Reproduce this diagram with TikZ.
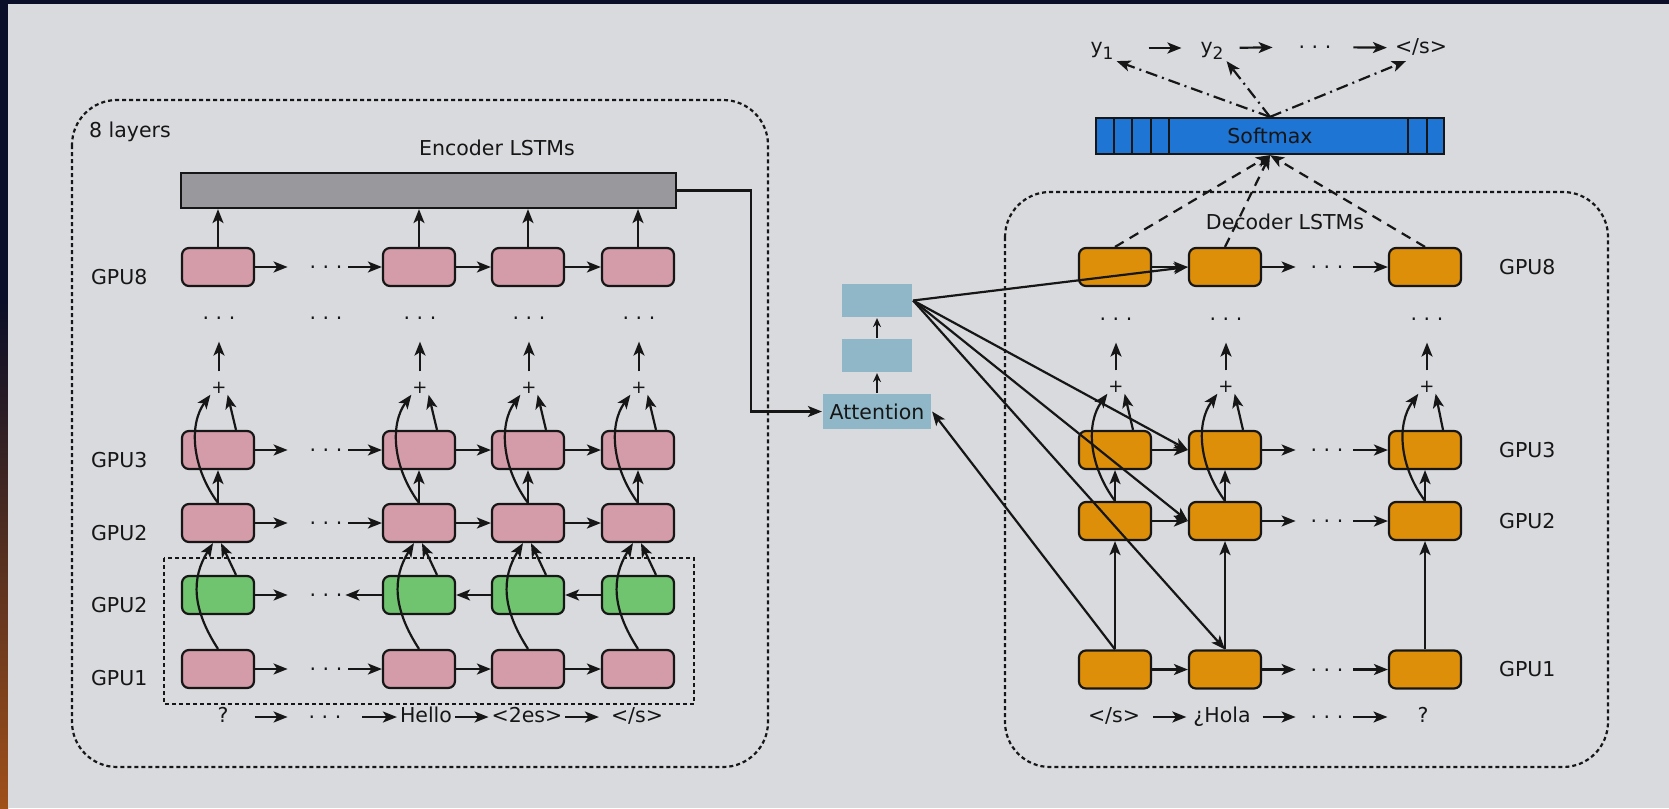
\documentclass[tikz,border=0pt]{standalone}
\usepackage{fontspec}
\setmainfont{DejaVu Sans}
\usetikzlibrary{arrows.meta}
\definecolor{enccol}{RGB}{212,155,168}
\definecolor{bwdcol}{RGB}{112,196,112}
\definecolor{deccol}{RGB}{222,143,10}
\definecolor{attcol}{RGB}{143,183,199}
\definecolor{smcol}{RGB}{30,117,212}
\definecolor{barcol}{RGB}{152,152,157}
\definecolor{panel}{RGB}{217,218,222}
\definecolor{backcol}{RGB}{10,14,40}
\definecolor{glow}{RGB}{160,80,25}
\definecolor{ink}{RGB}{22,22,22}
\tikzset{>={Stealth[length=14pt,width=11pt,inset=3.5pt]},
	cell/.style={rounded corners=7pt,draw=ink,line width=2.2pt,minimum width=72pt,minimum height=38pt,inner sep=0pt},
	enc/.style={cell,fill=enccol},
	bwd/.style={cell,fill=bwdcol},
	dec/.style={cell,fill=deccol},
	att/.style={fill=attcol,inner sep=0pt,minimum width=70pt,minimum height=33pt,font=\fontsize{20.5}{24}\selectfont},
	txt/.style={inner sep=2pt,text height=15pt,text depth=5pt,font=\fontsize{20.5}{24}\selectfont},
	gpu/.style={inner sep=0pt,anchor=west,font=\fontsize{20.5}{24}\selectfont},
	dots/.style={inner sep=0pt,text height=3pt,text depth=0pt,font=\fontsize{20.5}{24}\selectfont},
	plus/.style={inner sep=0pt,font=\fontsize{18}{18}\selectfont},
	grp/.style={dash pattern=on 4pt off 3pt,line width=2.2pt},
	up/.style={->,shorten <=10pt,shorten >=21pt},
	small/.style={-{Stealth[open,length=9pt,width=8pt,inset=3pt]},line width=1.4pt}}
\begin{document}
\begin{tikzpicture}[x=1pt,y=-1pt,line width=2.2pt,color=ink]
	\useasboundingbox (0,0) rectangle (1669,808);
	\fill [backcol] (0,0) rectangle (1669,808);
	\shade [top color=backcol,bottom color=glow] (0,300) rectangle (8,808);
	\fill [panel] (8,4) rectangle (1669,808);
	\draw [grp,rounded corners=45pt] (72,100) rectangle (768,767);
	\draw [grp,rounded corners=45pt] (1005,192) rectangle (1608,767);
	\draw [grp] (164,558) rectangle (694,704);
	\node (lyr) at (88,132) [gpu] {8 layers};
	\node (enct) at (497,150) [txt] {Encoder LSTMs};
	\node (dect) at (1285,224) [txt] {Decoder LSTMs};
	\node (bar) at (428.5,190.5) [draw=ink,fill=barcol,minimum width=495pt,minimum height=35pt,inner sep=0pt] {};
	\node (le8) at (90,277) [gpu] {GPU8};
	\node (le3) at (90,460) [gpu] {GPU3};
	\node (le2) at (90,533) [gpu] {GPU2};
	\node (leb) at (90,605) [gpu] {GPU2};
	\node (le1) at (90,678) [gpu] {GPU1};
	\node (e8a) at (218,267) [enc] {};
	\node (e8x) at (326,267) [dots] {.\ .\ .};
	\node (e8b) at (419,267) [enc] {};
	\node (e8c) at (528,267) [enc] {};
	\node (e8d) at (638,267) [enc] {};
	\node (eva) at (219,318) [dots] {.\ .\ .};
	\node (evx) at (326,318) [dots] {.\ .\ .};
	\node (evb) at (420,318) [dots] {.\ .\ .};
	\node (evc) at (529,318) [dots] {.\ .\ .};
	\node (evd) at (639,318) [dots] {.\ .\ .};
	\node (epa) at (219,388) [plus] {+};
	\node (epb) at (420,388) [plus] {+};
	\node (epc) at (529,388) [plus] {+};
	\node (epd) at (639,388) [plus] {+};
	\node (e3a) at (218,450) [enc] {};
	\node (e3x) at (326,450) [dots] {.\ .\ .};
	\node (e3b) at (419,450) [enc] {};
	\node (e3c) at (528,450) [enc] {};
	\node (e3d) at (638,450) [enc] {};
	\node (e2a) at (218,523) [enc] {};
	\node (e2x) at (326,523) [dots] {.\ .\ .};
	\node (e2b) at (419,523) [enc] {};
	\node (e2c) at (528,523) [enc] {};
	\node (e2d) at (638,523) [enc] {};
	\node (eba) at (218,595) [bwd] {};
	\node (ebx) at (326,595) [dots] {.\ .\ .};
	\node (ebb) at (419,595) [bwd] {};
	\node (ebc) at (528,595) [bwd] {};
	\node (ebd) at (638,595) [bwd] {};
	\node (e1a) at (218,669) [enc] {};
	\node (e1x) at (326,669) [dots] {.\ .\ .};
	\node (e1b) at (419,669) [enc] {};
	\node (e1c) at (528,669) [enc] {};
	\node (e1d) at (638,669) [enc] {};
	\node (iq) at (223,717) [txt] {?};
	\node (ix) at (325,717) [dots] {.\ .\ .};
	\node (ih) at (426,717) [txt] {Hello};
	\node (ies) at (527,717) [txt] {<2es>};
	\node (ieos) at (637,717) [txt] {</s>};
	\draw [->,shorten >=21pt] (e8a) -- (e8x);
	\draw [->,shorten <=5pt] (e8x) -- (e8b);
	\draw [->] (e8b) -- (e8c);
	\draw [->] (e8c) -- (e8d);
	\draw [->,shorten >=21pt] (e3a) -- (e3x);
	\draw [->,shorten <=5pt] (e3x) -- (e3b);
	\draw [->] (e3b) -- (e3c);
	\draw [->] (e3c) -- (e3d);
	\draw [->,shorten >=21pt] (e2a) -- (e2x);
	\draw [->,shorten <=5pt] (e2x) -- (e2b);
	\draw [->] (e2b) -- (e2c);
	\draw [->] (e2c) -- (e2d);
	\draw [->,shorten >=21pt] (eba) -- (ebx);
	\draw [->,shorten >=2pt] (ebb) -- (ebx);
	\draw [->] (ebc) -- (ebb);
	\draw [->] (ebd) -- (ebc);
	\draw [->,shorten >=21pt] (e1a) -- (e1x);
	\draw [->,shorten <=5pt] (e1x) -- (e1b);
	\draw [->] (e1b) -- (e1c);
	\draw [->] (e1c) -- (e1d);
	\draw [->,shorten <=23pt,shorten >=20pt] (iq) -- (ix);
	\draw [->,shorten <=20pt] (ix) -- (ih);
	\draw [->] (ih) -- (ies);
	\draw [->,shorten >=9pt] (ies) -- (ieos);
	\draw [->] (e1a.north) .. controls +(-26,-40) and +(-22,35) .. ([xshift=-5pt]e2a.south);
	\draw [->] ([xshift=18pt]eba.north) -- ([xshift=3pt]e2a.south);
	\draw [->] (e2a) -- (e3a);
	\draw [->] (e2a.north) .. controls +(-26,-35) and +(-22,30) .. (epa.south west);
	\draw [->] ([xshift=18pt]e3a.north) -- (epa.south east);
	\draw [up] (epa) -- (eva);
	\draw [->] (e8a) -- (e8a |- bar.south);
	\draw [->] (e1b.north) .. controls +(-26,-40) and +(-22,35) .. ([xshift=-5pt]e2b.south);
	\draw [->] ([xshift=18pt]ebb.north) -- ([xshift=3pt]e2b.south);
	\draw [->] (e2b) -- (e3b);
	\draw [->] (e2b.north) .. controls +(-26,-35) and +(-22,30) .. (epb.south west);
	\draw [->] ([xshift=18pt]e3b.north) -- (epb.south east);
	\draw [up] (epb) -- (evb);
	\draw [->] (e8b) -- (e8b |- bar.south);
	\draw [->] (e1c.north) .. controls +(-26,-40) and +(-22,35) .. ([xshift=-5pt]e2c.south);
	\draw [->] ([xshift=18pt]ebc.north) -- ([xshift=3pt]e2c.south);
	\draw [->] (e2c) -- (e3c);
	\draw [->] (e2c.north) .. controls +(-26,-35) and +(-22,30) .. (epc.south west);
	\draw [->] ([xshift=18pt]e3c.north) -- (epc.south east);
	\draw [up] (epc) -- (evc);
	\draw [->] (e8c) -- (e8c |- bar.south);
	\draw [->] (e1d.north) .. controls +(-26,-40) and +(-22,35) .. ([xshift=-5pt]e2d.south);
	\draw [->] ([xshift=18pt]ebd.north) -- ([xshift=3pt]e2d.south);
	\draw [->] (e2d) -- (e3d);
	\draw [->] (e2d.north) .. controls +(-26,-35) and +(-22,30) .. (epd.south west);
	\draw [->] ([xshift=18pt]e3d.north) -- (epd.south east);
	\draw [up] (epd) -- (evd);
	\draw [->] (e8d) -- (e8d |- bar.south);
	\node (att) at (877,411.5) [att,minimum width=108pt,minimum height=35pt] {Attention};
	\node (attm) at (877,355.5) [att] {};
	\node (attt) at (877,300.5) [att] {};
	\draw [small] (att) -- (attm);
	\draw [small] (attm) -- (attt);
	\draw [->] (bar.east) -- ++(74,0) |- (att.west);
	\node (soft) at (1270,136) [draw=ink,fill=smcol,minimum width=348pt,minimum height=36pt,inner sep=0pt,font=\fontsize{20.5}{24}\selectfont] {Softmax};
	\draw ([xshift=19pt]soft.north west) -- ([xshift=19pt]soft.south west);
	\draw ([xshift=37pt]soft.north west) -- ([xshift=37pt]soft.south west);
	\draw ([xshift=56pt]soft.north west) -- ([xshift=56pt]soft.south west);
	\draw ([xshift=74pt]soft.north west) -- ([xshift=74pt]soft.south west);
	\draw ([xshift=-37pt]soft.north east) -- ([xshift=-37pt]soft.south east);
	\draw ([xshift=-18pt]soft.north east) -- ([xshift=-18pt]soft.south east);
	\node (oy1) at (1102,48) [txt] {y\raisebox{-6pt}{\fontsize{17}{17}\selectfont 1}};
	\node (oy2) at (1212,48) [txt] {y\raisebox{-6pt}{\fontsize{17}{17}\selectfont 2}};
	\node (ox) at (1315,47) [dots] {.\ .\ .};
	\node (oeos) at (1421,48) [txt] {</s>};
	\draw [->,shorten <=32pt,shorten >=16pt] (oy1) -- (oy2);
	\draw [->,shorten <=13pt,shorten >=25pt] (oy2) -- (ox);
	\draw [->,shorten <=21pt,shorten >=5pt] (ox) -- (oeos);
	\draw [->,dash pattern=on 12pt off 5pt on 2pt off 5pt] (soft.north) -- (oy1.south east);
	\draw [->,dash pattern=on 12pt off 5pt on 2pt off 5pt] (soft.north) -- (oy2.south east);
	\draw [->,dash pattern=on 12pt off 5pt on 2pt off 5pt] (soft.north) -- ([xshift=14pt]oeos.south west);
	\node (ld8) at (1498,267) [gpu] {GPU8};
	\node (ld3) at (1498,450) [gpu] {GPU3};
	\node (ld2) at (1498,521) [gpu] {GPU2};
	\node (ld1) at (1498,669) [gpu] {GPU1};
	\node (d8a) at (1115,267) [dec] {};
	\node (d8b) at (1225,267) [dec] {};
	\node (d8x) at (1327,267) [dots] {.\ .\ .};
	\node (d8c) at (1425,267) [dec] {};
	\node (dva) at (1116,319) [dots] {.\ .\ .};
	\node (dvb) at (1226,319) [dots] {.\ .\ .};
	\node (dvc) at (1427,319) [dots] {.\ .\ .};
	\node (dpa) at (1116,387) [plus] {+};
	\node (dpb) at (1226,387) [plus] {+};
	\node (dpc) at (1427,387) [plus] {+};
	\node (d3a) at (1115,450) [dec] {};
	\node (d3b) at (1225,450) [dec] {};
	\node (d3x) at (1327,450) [dots] {.\ .\ .};
	\node (d3c) at (1425,450) [dec] {};
	\node (d2a) at (1115,521) [dec] {};
	\node (d2b) at (1225,521) [dec] {};
	\node (d2x) at (1327,521) [dots] {.\ .\ .};
	\node (d2c) at (1425,521) [dec] {};
	\node (d1a) at (1115,669.5) [dec] {};
	\node (d1b) at (1225,669.5) [dec] {};
	\node (d1x) at (1327,669.5) [dots] {.\ .\ .};
	\node (d1c) at (1425,669.5) [dec] {};
	\node (deos) at (1114,717) [txt] {</s>};
	\node (dhola) at (1222,717) [txt] {¿Hola};
	\node (dx) at (1327,717) [dots] {.\ .\ .};
	\node (dq) at (1423,717) [txt] {?};
	\draw [->] (d8a) -- (d8b);
	\draw [->,shorten >=14pt] (d8b) -- (d8x);
	\draw [->,shorten <=9pt] (d8x) -- (d8c);
	\draw [->] (d3a) -- (d3b);
	\draw [->,shorten >=14pt] (d3b) -- (d3x);
	\draw [->,shorten <=9pt] (d3x) -- (d3c);
	\draw [->] (d2a) -- (d2b);
	\draw [->,shorten >=14pt] (d2b) -- (d2x);
	\draw [->,shorten <=9pt] (d2x) -- (d2c);
	\draw [->] (d1a) -- (d1b);
	\draw [->,shorten >=14pt] (d1b) -- (d1x);
	\draw [->,shorten <=9pt] (d1x) -- (d1c);
	\draw [->,shorten <=10pt,shorten >=4pt] (deos) -- (dhola);
	\draw [->,shorten <=9pt,shorten >=14pt] (dhola) -- (dx);
	\draw [->,shorten <=9pt,shorten >=27pt] (dx) -- (dq);
	\draw [->] (d1a) -- (d2a);
	\draw [->] (d2a) -- (d3a);
	\draw [->] (d2a.north) .. controls +(-26,-35) and +(-22,30) .. (dpa.south west);
	\draw [->] ([xshift=18pt]d3a.north) -- (dpa.south east);
	\draw [up] (dpa) -- (dva);
	\draw [->] (d1b) -- (d2b);
	\draw [->] (d2b) -- (d3b);
	\draw [->] (d2b.north) .. controls +(-26,-35) and +(-22,30) .. (dpb.south west);
	\draw [->] ([xshift=18pt]d3b.north) -- (dpb.south east);
	\draw [up] (dpb) -- (dvb);
	\draw [->] (d1c) -- (d2c);
	\draw [->] (d2c) -- (d3c);
	\draw [->] (d2c.north) .. controls +(-26,-35) and +(-22,30) .. (dpc.south west);
	\draw [->] ([xshift=18pt]d3c.north) -- (dpc.south east);
	\draw [up] (dpc) -- (dvc);
	\draw [->,dash pattern=on 10pt off 7pt] (d8a.north) -- (soft.south);
	\draw [->,dash pattern=on 10pt off 7pt] (d8b.north) -- (soft.south);
	\draw [->,dash pattern=on 10pt off 7pt] (d8c.north) -- (soft.south);
	\draw [->] (attt.east) -- (d8b.west);
	\draw [->] (attt.east) -- (d3b.west);
	\draw [->] (attt.east) -- (d2b.west);
	\draw [->] (attt.east) -- (d1b.north);
	\draw [->] (d1a.north) -- (att.east);
\end{tikzpicture}
\end{document}
